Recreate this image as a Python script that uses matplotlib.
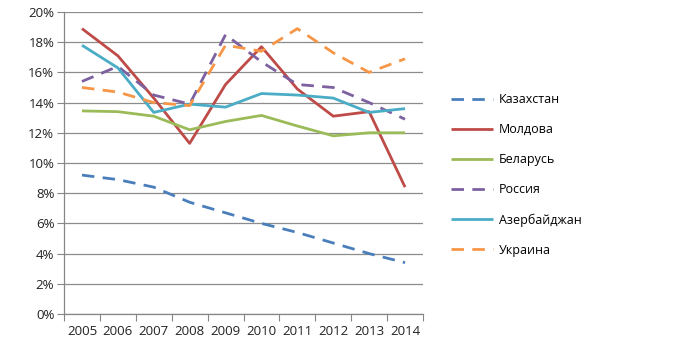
import matplotlib
matplotlib.use("Agg")
import matplotlib.pyplot as plt
from matplotlib.ticker import FuncFormatter, FixedLocator

years = ["2005", "2006", "2007", "2008", "2009", "2010", "2011", "2012", "2013", "2014"]
kazakhstan = [9.2, 8.9, 8.4, 7.4, 6.7, 6.0, 5.4, 4.7, 4.0, 3.4]
moldova = [18.9, 17.1, 14.3, 11.3, 15.2, 17.7, 14.9, 13.1, 13.4, 8.4]
belarus = [13.45, 13.4, 13.1, 12.2, 12.75, 13.15, 12.45, 11.8, 12.0, 12.0]
russia = [15.4, 16.4, 14.5, 13.9, 18.5, 16.7, 15.2, 15.0, 14.0, 12.9]
azerbaijan = [17.8, 16.3, 13.35, 13.9, 13.7, 14.6, 14.5, 14.3, 13.35, 13.6]
ukraine = [15.0, 14.7, 14.0, 13.8, 17.8, 17.4, 18.9, 17.3, 16.0, 16.9]

names = ["Казахстан", "Молдова", "Беларусь", "Россия", "Азербайджан", "Украина"]
series = [kazakhstan, moldova, belarus, russia, azerbaijan, ukraine]
colors = ["#4A7EBB", "#BE4B48", "#9BBB59", "#7D60A0", "#4BACC6", "#F79646"]
dashed = [True, False, False, True, False, True]

plt.rcParams['font.family'] = ['Open Sans', 'DejaVu Sans']

fig = plt.figure(figsize=(6.77, 3.49), dpi=100)
ax = fig.add_axes([64/677, 1-314/349, (423-64)/677, (314-12)/349])

x = list(range(len(years)))
handles = []
for vals, name, c, d in zip(series, names, colors, dashed):
    ls = (0, (4.5, 3)) if d else '-'
    h, = ax.plot(x, vals, color=c, lw=2.0, linestyle=ls, label=name,
                 solid_capstyle='butt', dash_capstyle='butt', zorder=3)
    handles.append(h)

ax.set_xlim(-0.5, len(years) - 0.5)
ax.set_ylim(0, 20)
ax.set_yticks(range(0, 21, 2))
ax.yaxis.set_major_formatter(FuncFormatter(lambda v, p: f"{int(v)}%"))
ax.set_xticks(x)
ax.set_xticklabels(years)
ax.xaxis.set_minor_locator(FixedLocator([i - 0.5 for i in range(len(years) + 1)]))
ax.tick_params(axis='x', which='major', length=0, pad=8, labelsize=9.5, colors='#222222')
ax.tick_params(axis='x', which='minor', length=5, color='#868686', width=0.8)
ax.tick_params(axis='y', length=5, color='#868686', width=0.8, labelsize=9.5, colors='#222222', pad=2)
ax.tick_params(axis='y', colors='#868686', labelcolor='#222222')

ax.grid(axis='y', color='#8C8C8C', lw=0.9, zorder=1)
for s in ['top', 'right']:
    ax.spines[s].set_visible(False)
for s in ['left', 'bottom']:
    ax.spines[s].set_color('#868686')
    ax.spines[s].set_linewidth(0.9)

fig.legend(handles=handles, loc='upper left', bbox_to_anchor=(440/677, 1-82/349),
           frameon=False, fontsize=9, labelspacing=1.36, handlelength=3.3,
           handletextpad=0.5)

fig.savefig("out.png", dpi=100)
